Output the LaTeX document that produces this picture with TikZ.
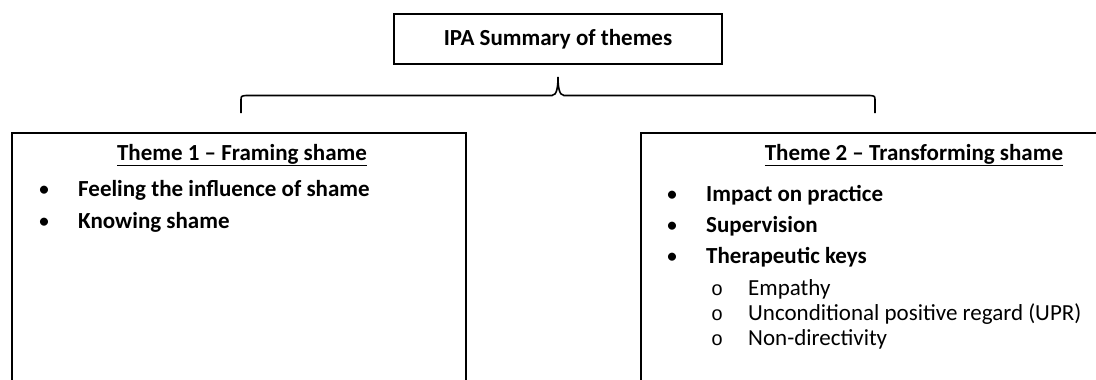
\documentclass[tikz,border=0pt]{standalone}
\usepackage{fontspec}
\setmainfont{Carlito}
\newfontfamily\monofam{Liberation Mono}
\begin{document}
\begin{tikzpicture}[x=1pt,y=-1pt,
  box/.style={draw=black, line width=1.1pt, inner sep=0pt},
  btxt/.style={font=\fontsize{23}{27}\selectfont\bfseries, anchor=west, inner sep=0pt},
  stxt/.style={font=\fontsize{23}{27}\selectfont, anchor=west, inner sep=0pt},
  ttl/.style={font=\fontsize{23}{27}\selectfont\bfseries, inner sep=0pt},
  bul/.style={font=\fontsize{19}{23}\selectfont\bfseries, inner sep=0pt},
  circ/.style={font=\fontsize{20}{24}\selectfont\monofam, inner sep=0pt},
  brace/.style={draw=black, line width=1.6pt}]
\useasboundingbox (0,0) rectangle (1096,380);
\clip (0,0) rectangle (1096,380);
% top box
\node[box, minimum width=328pt, minimum height=50pt, font=\fontsize{23}{27}\selectfont\bfseries] (top) at (558,39) {IPA Summary of themes};
% brace
\coordinate (bl) at (241,113);
\coordinate (br) at (875,113);
\coordinate (tip) at (558,77);
\draw[brace] (bl) -- (241,101) .. controls (241,96) .. (246,95.5) -- (552,95.5) .. controls (557,95.5) and (558,86) .. (tip) .. controls (558,86) and (559,95.5) .. (564,95.5) -- (870,95.5) .. controls (875,96) .. (875,101) -- (br);
% boxes
\node[box, minimum width=454pt, minimum height=300pt] (left) at (239,283) {};
\node[box, minimum width=470pt, minimum height=300pt] (right) at (876,283) {};
% left content
\node[ttl] (t1) at (242,155) {\underline{Theme 1 – Framing shame}};
\node[bul] (b11) at (44,191) {\textbullet};
\node[btxt] (i11) at (78,190) {Feeling the influence of shame};
\node[bul] (b12) at (44,223) {\textbullet};
\node[btxt] (i12) at (78,222) {Knowing shame};
% right content
\node[ttl] (t2) at (914,155) {\underline{Theme 2 – Transforming shame}};
\node[bul] (b21) at (672,196) {\textbullet};
\node[btxt] (i21) at (706,195) {Impact on practice};
\node[bul] (b22) at (672,227) {\textbullet};
\node[btxt] (i22) at (706,226) {Supervision};
\node[bul] (b23) at (672,258) {\textbullet};
\node[btxt] (i23) at (706,257) {Therapeutic keys};
\node[circ] (c1) at (717,290) {o};
\node[stxt] (s1) at (748,289) {Empathy};
\node[circ] (c2) at (717,315) {o};
\node[stxt] (s2) at (748,314) {Unconditional positive regard (UPR)};
\node[circ] (c3) at (717,340) {o};
\node[stxt] (s3) at (748,339) {Non-directivity};
\end{tikzpicture}
\end{document}
